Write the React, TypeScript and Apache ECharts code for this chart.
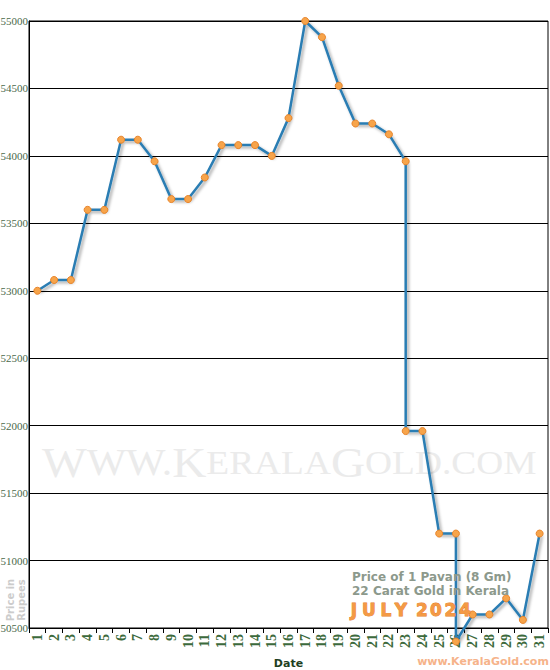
import React, { useEffect, useRef } from "react";
import * as echarts from "echarts";

const days: string[] = Array.from({ length: 31 }, (_, i) => String(i + 1));

// [day, price] — days 23 and 26 carry two rates each
const pricePoints: [string, number][] = [
  ["1", 53000], ["2", 53080], ["3", 53080], ["4", 53600], ["5", 53600],
  ["6", 54120], ["7", 54120], ["8", 53960], ["9", 53680], ["10", 53680],
  ["11", 53840], ["12", 54080], ["13", 54080], ["14", 54080], ["15", 54000],
  ["16", 54280], ["17", 55000], ["18", 54880], ["19", 54520], ["20", 54240],
  ["21", 54240], ["22", 54160], ["23", 53960], ["23", 51960], ["24", 51960],
  ["25", 51200], ["26", 51200], ["26", 50400], ["27", 50600], ["28", 50600],
  ["29", 50720], ["30", 50560], ["31", 51200],
];

const yMin = 50500;
const yMax = 55000;
const yStep = 500;

const titleLine1 = "Price of 1 Pavan (8 Gm)";
const titleLine2 = "22 Carat Gold in Kerala";
const monthTitle = "JULY 2024";
const siteLabel = "www.KeralaGold.com";

export default function App() {
  const ref = useRef<HTMLDivElement>(null);

  useEffect(() => {
    if (!ref.current) return;
    const chart = echarts.init(ref.current, null, { renderer: "svg" });

    const monthCenters = [354, 369, 386, 401, 0, 422, 436, 450.5, 465];
    const monthChars = monthTitle
      .split("")
      .map((ch, i) => ({ ch, x: monthCenters[i] }))
      .filter((c) => c.ch !== " ")
      .map((c) => ({
        type: "text",
        x: c.x,
        y: 610,
        z: 10,
        style: {
          text: c.ch,
          font: "bold 17px 'DejaVu Sans'",
          fill: "#f49a45",
          stroke: "#e47a1c",
          lineWidth: 0.8,
          align: "center",
          verticalAlign: "middle",
        },
      }));

    chart.setOption({
      animation: false,
      backgroundColor: "#ffffff",
      grid: {
        left: 29,
        top: 21,
        width: 519,
        height: 607,
        show: true,
        borderColor: "#000000",
        borderWidth: 1,
        backgroundColor: "transparent",
        containLabel: false,
        outerBoundsMode: "none",
      },
      xAxis: {
        type: "category",
        data: days,
        boundaryGap: true,
        name: "Date",
        nameLocation: "middle",
        nameGap: 30,
        nameTextStyle: {
          fontFamily: "'DejaVu Sans'",
          fontWeight: "bold",
          fontSize: 11,
          color: "#1f3f1f",
        },
        axisLine: { lineStyle: { color: "#000000", width: 1 } },
        axisTick: { show: true, length: 5, lineStyle: { color: "#000000" } },
        axisLabel: {
          rotate: 90,
          margin: 6,
          interval: 0,
          fontFamily: "'Liberation Serif'",
          fontWeight: "bold",
          fontSize: 14,
          color: "#3c6a3c",
        },
        splitLine: { show: false },
      },
      yAxis: {
        type: "value",
        min: yMin,
        max: yMax,
        interval: yStep,
        axisLine: { show: true, lineStyle: { color: "#000000", width: 1 } },
        axisTick: { show: false },
        axisLabel: {
          margin: 1,
          fontFamily: "'Liberation Serif'",
          fontSize: 11,
          color: "#4a6a4a",
          formatter: (v: number) => String(v),
        },
        splitLine: { show: true, lineStyle: { color: "#000000", width: 1 } },
      },
      graphic: [
        {
          type: "text",
          x: 42,
          y: 441,
          scaleX: 1.1,
          z: 0,
          silent: true,
          style: {
            text: "{b|W}{m|WW.}{b|K}{s|ERALA}{b|G}{s|OLD.COM}",
            fill: "#ebebeb",
            rich: {
              b: { fontFamily: "'Liberation Serif'", fontSize: 43, fill: "#ebebeb" },
              m: { fontFamily: "'Liberation Serif'", fontSize: 38, fill: "#ebebeb" },
              s: { fontFamily: "'Liberation Serif'", fontSize: 34, fill: "#ebebeb" },
            },
          },
        },
        {
          type: "text",
          x: 16,
          y: 600,
          silent: true,
          rotation: Math.PI / 2,
          style: {
            text: "Price in\nRupees",
            font: "bold 10px 'DejaVu Sans'",
            fill: "#cccccc",
            align: "center",
            verticalAlign: "middle",
            lineHeight: 11,
          },
        },
        {
          type: "text",
          left: 352,
          top: 571,
          z: 10,
          style: { text: titleLine1, font: "bold 12px 'DejaVu Sans'", fill: "#8c998c" },
        },
        {
          type: "text",
          left: 352,
          top: 585,
          z: 10,
          style: { text: titleLine2, font: "bold 12px 'DejaVu Sans'", fill: "#8c998c" },
        },
        ...monthChars,
        {
          type: "text",
          x: 483,
          y: 661,
          style: {
            text: siteLabel,
            font: "bold 11px 'DejaVu Sans'",
            fill: "#f6b38a",
            align: "center",
            verticalAlign: "middle",
          },
        },
      ],
      series: [
        {
          type: "line",
          data: pricePoints,
          clip: false,
          z: 5,
          symbol: "circle",
          symbolSize: 7,
          lineStyle: {
            color: "#2a7db3",
            width: 2.5,
            shadowColor: "rgba(0,0,0,0.35)",
            shadowBlur: 3,
            shadowOffsetX: 2,
            shadowOffsetY: 2,
          },
          itemStyle: {
            color: "#f7a44a",
            borderColor: "#e8842a",
            borderWidth: 1,
          },
        },
      ],
    });

    return () => chart.dispose();
  }, []);

  return (
    <div
      ref={ref}
      style={{ position: "fixed", left: 0, top: 0, width: 550, height: 670, background: "#fff" }}
    />
  );
}
